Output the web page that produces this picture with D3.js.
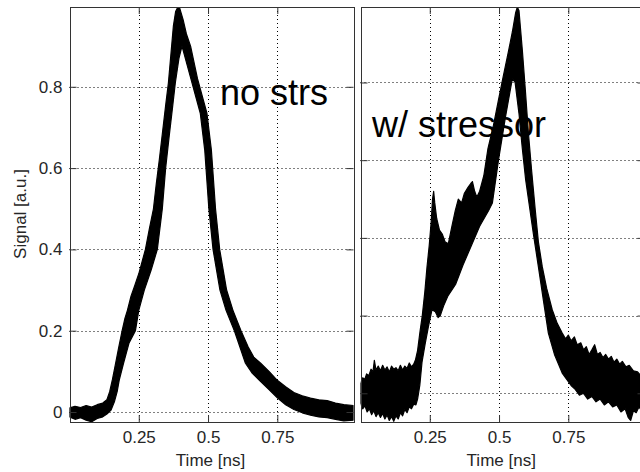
<!DOCTYPE html>
<html>
<head>
<meta charset="utf-8">
<script src="https://cdn.jsdelivr.net/npm/d3@7"></script>
<style>
  body { margin: 0; background: #fff; }
  text { font-family: Arial, "Liberation Sans", sans-serif; }
</style>
</head>
<body>
<script>
var width = 640,
    height = 472;

// tick values
var tickT = [0.25, 0.5, 0.75];
var tickV = [0, 0.2, 0.4, 0.6, 0.8];

// envelope of the trace bundle, [time ns, signal a.u.]
// upper edge, left to right
var noStrsUpper = [
  [0.000, 0.010], [0.020, 0.014], [0.040, 0.011], [0.060, 0.016], [0.080, 0.012],
  [0.100, 0.018], [0.120, 0.022], [0.135, 0.030], [0.145, 0.050], [0.155, 0.080],
  [0.165, 0.115], [0.178, 0.160], [0.190, 0.200], [0.200, 0.230], [0.209, 0.250],
  [0.222, 0.285], [0.235, 0.310], [0.250, 0.340], [0.262, 0.370], [0.274, 0.400],
  [0.288, 0.450], [0.303, 0.500], [0.313, 0.560], [0.324, 0.620], [0.336, 0.690],
  [0.348, 0.760], [0.357, 0.810], [0.366, 0.880], [0.375, 0.950], [0.383, 0.985],
  [0.391, 0.996], [0.398, 0.993], [0.410, 0.965], [0.422, 0.930], [0.437, 0.900],
  [0.462, 0.820], [0.496, 0.735], [0.512, 0.645], [0.527, 0.500], [0.542, 0.400],
  [0.567, 0.300], [0.590, 0.250], [0.619, 0.200], [0.645, 0.160], [0.665, 0.135],
  [0.690, 0.120], [0.720, 0.100], [0.750, 0.078], [0.780, 0.062], [0.810, 0.048],
  [0.840, 0.040], [0.870, 0.034], [0.900, 0.030], [0.930, 0.028], [0.960, 0.022],
  [0.990, 0.018], [1.025, 0.016]
];
// lower edge, left to right
var noStrsLower = [
  [0.000, -0.012], [0.020, -0.018], [0.040, -0.014], [0.060, -0.020], [0.080, -0.024],
  [0.100, -0.016], [0.120, -0.012], [0.135, -0.005], [0.150, 0.005], [0.162, 0.025],
  [0.172, 0.050], [0.180, 0.080], [0.195, 0.120], [0.215, 0.170], [0.238, 0.200],
  [0.250, 0.250], [0.270, 0.300], [0.295, 0.350], [0.317, 0.400], [0.335, 0.500],
  [0.347, 0.600], [0.360, 0.680], [0.372, 0.750], [0.382, 0.810], [0.395, 0.870],
  [0.406, 0.900], [0.438, 0.820], [0.472, 0.735], [0.488, 0.645], [0.503, 0.500],
  [0.518, 0.400], [0.543, 0.300], [0.565, 0.250], [0.595, 0.200], [0.615, 0.160],
  [0.635, 0.120], [0.660, 0.095], [0.690, 0.075], [0.720, 0.055], [0.750, 0.035],
  [0.780, 0.018], [0.810, 0.006], [0.840, -0.002], [0.870, -0.008], [0.900, -0.012],
  [0.930, -0.014], [0.960, -0.018], [0.990, -0.022], [1.025, -0.020]
];

var stressUpper = [
  [0.000, 0.025], [0.008, 0.040], [0.015, 0.035], [0.022, 0.050], [0.030, 0.045],
  [0.038, 0.062], [0.045, 0.055], [0.050, 0.085], [0.056, 0.060], [0.064, 0.070],
  [0.072, 0.058], [0.080, 0.072], [0.088, 0.060], [0.096, 0.068], [0.104, 0.055],
  [0.112, 0.070], [0.120, 0.062], [0.128, 0.066], [0.136, 0.058], [0.144, 0.072],
  [0.152, 0.060], [0.160, 0.070], [0.168, 0.064], [0.176, 0.078], [0.184, 0.068],
  [0.192, 0.075], [0.198, 0.085], [0.206, 0.110], [0.215, 0.160], [0.223, 0.200],
  [0.232, 0.260], [0.240, 0.325], [0.248, 0.380], [0.255, 0.440], [0.260, 0.500],
  [0.264, 0.520], [0.268, 0.490], [0.275, 0.450], [0.285, 0.420], [0.295, 0.410],
  [0.305, 0.390], [0.317, 0.385], [0.330, 0.430], [0.342, 0.470], [0.353, 0.500],
  [0.365, 0.490], [0.375, 0.515], [0.388, 0.530], [0.398, 0.540], [0.404, 0.545],
  [0.412, 0.520], [0.420, 0.505], [0.430, 0.520], [0.445, 0.560], [0.460, 0.630],
  [0.480, 0.690], [0.498, 0.755], [0.515, 0.815], [0.534, 0.880], [0.548, 0.930],
  [0.560, 0.980], [0.566, 0.994], [0.572, 0.985], [0.584, 0.884], [0.595, 0.780],
  [0.606, 0.670], [0.618, 0.570], [0.631, 0.470], [0.642, 0.390], [0.656, 0.326],
  [0.672, 0.270], [0.692, 0.215], [0.710, 0.180], [0.728, 0.155], [0.740, 0.140],
  [0.750, 0.150], [0.760, 0.135], [0.772, 0.145], [0.782, 0.125], [0.795, 0.130],
  [0.805, 0.112], [0.815, 0.120], [0.825, 0.100], [0.835, 0.112], [0.845, 0.125],
  [0.855, 0.100], [0.865, 0.105], [0.875, 0.092], [0.885, 0.100], [0.895, 0.088],
  [0.905, 0.095], [0.915, 0.080], [0.925, 0.088], [0.935, 0.075], [0.945, 0.082],
  [0.958, 0.068], [0.970, 0.072], [0.985, 0.058], [1.000, 0.055], [1.012, 0.045],
  [1.025, 0.050]
];
var stressLower = [
  [0.000, -0.025], [0.008, -0.040], [0.016, -0.032], [0.024, -0.048], [0.032, -0.040],
  [0.040, -0.055], [0.048, -0.045], [0.056, -0.060], [0.064, -0.050], [0.072, -0.062],
  [0.080, -0.052], [0.088, -0.066], [0.096, -0.056], [0.104, -0.070], [0.112, -0.060],
  [0.120, -0.072], [0.128, -0.058], [0.136, -0.066], [0.144, -0.050], [0.152, -0.058],
  [0.160, -0.042], [0.168, -0.050], [0.176, -0.035], [0.184, -0.040], [0.192, -0.028],
  [0.200, -0.030], [0.206, -0.015], [0.214, 0.020], [0.222, 0.080], [0.234, 0.130],
  [0.246, 0.175], [0.258, 0.215], [0.270, 0.210], [0.280, 0.195], [0.288, 0.200],
  [0.300, 0.225], [0.315, 0.250], [0.343, 0.280], [0.370, 0.330], [0.403, 0.385],
  [0.430, 0.430], [0.462, 0.470], [0.476, 0.490], [0.498, 0.600], [0.523, 0.710],
  [0.548, 0.810], [0.558, 0.800], [0.572, 0.720], [0.584, 0.630], [0.596, 0.550],
  [0.606, 0.500], [0.624, 0.410], [0.642, 0.326], [0.660, 0.240], [0.678, 0.155],
  [0.700, 0.100], [0.728, 0.052], [0.745, 0.035], [0.760, 0.020], [0.775, 0.010],
  [0.790, -0.005], [0.805, 0.000], [0.820, -0.015], [0.835, -0.008], [0.850, -0.022],
  [0.865, -0.015], [0.880, -0.030], [0.895, -0.022], [0.910, -0.035], [0.925, -0.030],
  [0.940, -0.048], [0.955, -0.040], [0.966, -0.062], [0.975, -0.070], [0.985, -0.045],
  [0.995, -0.050], [1.005, -0.035], [1.015, -0.045], [1.025, -0.040]
];

var panels = [
  { x: [69.5, 353.5], v: [-0.0246, 0.9963], upper: noStrsUpper, lower: noStrsLower,
    label: "no strs", lx: 220, ly: 105, yLabels: true },
  { x: [360.5, 644.5], v: [-0.0739, 0.9943], upper: stressUpper, lower: stressLower,
    label: "w/ stressor", lx: 372, ly: 137, yLabels: false }
];

var plotTop = 7, plotBottom = 422, tickLen = 7;

var svg = d3.select("body").append("svg")
    .attr("width", width)
    .attr("height", height);

panels.forEach(function(p, i) {
  var x = d3.scaleLinear().domain([0, 1.025]).range(p.x),
      y = d3.scaleLinear().domain(p.v).range([plotBottom, plotTop]);

  var g = svg.append("g");

  g.append("clipPath").attr("id", "clip" + i)
    .append("rect")
      .attr("x", p.x[0]).attr("y", plotTop)
      .attr("width", p.x[1] - p.x[0]).attr("height", plotBottom - plotTop);

  // dotted grid
  g.selectAll(".gx").data(tickT).enter().append("line")
      .attr("x1", function(d) { return Math.round(x(d)) + 0.5; })
      .attr("x2", function(d) { return Math.round(x(d)) + 0.5; })
      .attr("y1", plotTop).attr("y2", plotBottom)
      .attr("stroke", "#000").attr("stroke-dasharray", "1,3");
  g.selectAll(".gy").data(tickV).enter().append("line")
      .attr("x1", p.x[0]).attr("x2", p.x[1])
      .attr("y1", function(d) { return Math.round(y(d)) + 0.5; })
      .attr("y2", function(d) { return Math.round(y(d)) + 0.5; })
      .attr("stroke", "#000").attr("stroke-dasharray", "1,3");

  // trace bundle
  var line = d3.line()
      .x(function(d) { return x(d[0]); })
      .y(function(d) { return y(d[1]); });
  g.append("path")
      .attr("clip-path", "url(#clip" + i + ")")
      .attr("d", line(p.upper.concat(p.lower.slice().reverse())) + "Z")
      .attr("fill", "#000")
      .attr("stroke", "#000")
      .attr("stroke-width", 1.2)
      .attr("stroke-linejoin", "round");

  // axes, ticks pointing inwards
  var fmt = function(d) { return String(d); };
  g.append("g").attr("transform", "translate(0," + plotBottom + ")")
      .call(d3.axisBottom(x).tickValues(tickT).tickSizeInner(-tickLen).tickSizeOuter(0)
        .tickPadding(9).tickFormat(fmt));
  g.append("g").attr("transform", "translate(0," + plotTop + ")")
      .call(d3.axisTop(x).tickValues(tickT).tickSizeInner(-tickLen).tickSizeOuter(0).tickFormat(""));
  g.append("g").attr("transform", "translate(" + p.x[0] + ",0)")
      .call(d3.axisLeft(y).tickValues(tickV).tickSizeInner(-tickLen).tickSizeOuter(0)
        .tickPadding(7).tickFormat(p.yLabels ? fmt : ""));
  g.append("g").attr("transform", "translate(" + p.x[1] + ",0)")
      .call(d3.axisRight(y).tickValues(tickV).tickSizeInner(-tickLen).tickSizeOuter(0).tickFormat(""));

  g.selectAll(".domain").remove();
  g.selectAll(".tick line").attr("stroke", "#333");
  g.selectAll(".tick text")
      .attr("fill", "#262626")
      .style("font-size", "17px")
      .style("font-family", "Arial, 'Liberation Sans', sans-serif");

  g.append("rect")
      .attr("x", Math.round(p.x[0]) + 0.5).attr("y", plotTop + 0.5)
      .attr("width", p.x[1] - p.x[0]).attr("height", plotBottom - plotTop)
      .attr("fill", "none").attr("stroke", "#333");

  g.append("text")
      .attr("x", (p.x[0] + Math.min(p.x[1], 644)) / 2 - 1)
      .attr("y", 466)
      .attr("text-anchor", "middle")
      .attr("fill", "#262626")
      .style("font-size", "17px")
      .text("Time [ns]");

  g.append("text")
      .attr("x", p.lx).attr("y", p.ly)
      .style("font-size", "36px")
      .attr("fill", "#000")
      .text(p.label);
});

svg.append("text")
    .attr("transform", "translate(25.5,214) rotate(-90)")
    .attr("text-anchor", "middle")
    .attr("fill", "#262626")
    .style("font-size", "17px")
    .text("Signal [a.u.]");
</script>
</body>
</html>
